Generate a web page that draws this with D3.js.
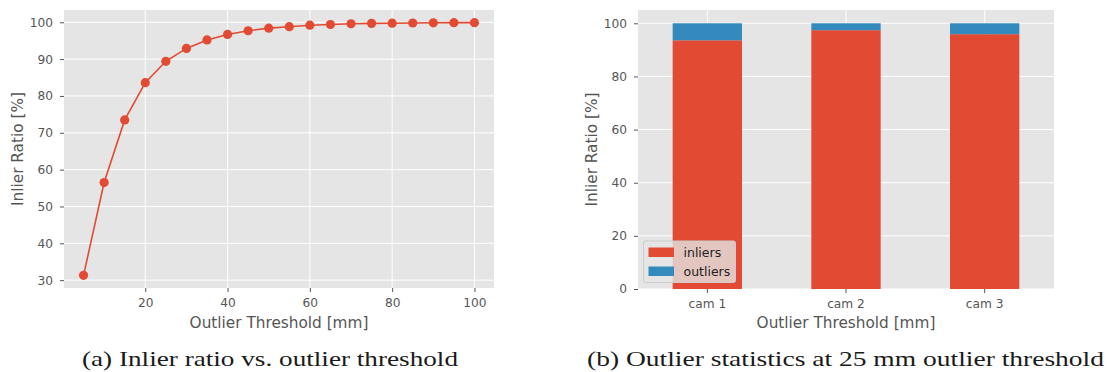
<!DOCTYPE html>
<html>
<head>
<meta charset="utf-8">
<script src="https://cdn.jsdelivr.net/npm/d3@7"></script>
<style>
  body { margin: 0; background: #fff; }
  svg { display: block; }
  .tick text { font-family: 'DejaVu Sans', sans-serif; }
</style>
</head>
<body>
<div id="chart"></div>
<script>
// left panel: inlier ratio vs threshold
const thresholds = [5, 10, 15, 20, 25, 30, 35, 40, 45, 50, 55, 60, 65, 70, 75, 80, 85, 90, 95, 100];
const inlierRatio = [31.3, 56.5, 73.5, 83.6, 89.4, 92.9, 95.2, 96.7, 97.7, 98.4, 98.8, 99.2, 99.4, 99.6, 99.7, 99.75, 99.8, 99.85, 99.9, 99.9];
const xTicksA = [20, 40, 60, 80, 100];
const yTicksA = [30, 40, 50, 60, 70, 80, 90, 100];

// right panel: stacked bars per camera
const cams = ['cam 1', 'cam 2', 'cam 3'];
const inliers = [93.6, 97.4, 95.9];
const outliers = [6.4, 2.6, 4.1];
const yTicksB = [0, 20, 40, 60, 80, 100];
const seriesNames = ['inliers', 'outliers'];

const red = '#E24A33', blue = '#348ABD', bg = '#E5E5E5', txt = '#555555';

const svg = d3.select('#chart').append('svg')
  .attr('width', 1110).attr('height', 372)
  .attr('viewBox', '0 0 1110 372');

function styleAxis(g) {
  g.select('.domain').remove();
  g.selectAll('.tick line').attr('stroke', txt).attr('stroke-width', 1);
  g.selectAll('.tick text').attr('fill', txt).style('font-size', '12.2px');
}

function gridlines(g, x, y, xt, yt, box) {
  g.append('g').selectAll('line').data(yt).join('line')
    .attr('x1', box.l).attr('x2', box.r)
    .attr('y1', d => y(d)).attr('y2', d => y(d))
    .attr('stroke', '#fff').attr('stroke-width', 1);
  g.append('g').selectAll('line').data(xt).join('line')
    .attr('y1', box.t).attr('y2', box.b)
    .attr('x1', d => x(d)).attr('x2', d => x(d))
    .attr('stroke', '#fff').attr('stroke-width', 1);
}

function labels(g, box, xlab, ylab, ylx) {
  g.append('text')
    .attr('x', (box.l + box.r) / 2).attr('y', 328)
    .attr('text-anchor', 'middle')
    .attr('fill', txt)
    .style('font-family', 'DejaVu Sans, sans-serif').style('font-size', '15.3px')
    .text(xlab);
  g.append('text')
    .attr('transform', `translate(${ylx},${(box.t + box.b) / 2}) rotate(-90)`)
    .attr('text-anchor', 'middle')
    .attr('fill', txt)
    .style('font-family', 'DejaVu Sans, sans-serif').style('font-size', '15.3px')
    .text(ylab);
}

// ---- panel (a)
const boxA = { l: 64, r: 494, t: 10, b: 288 };
const xA = d3.scaleLinear().domain([0.25, 104.75]).range([boxA.l, boxA.r]);
const yA = d3.scaleLinear().domain([27.87, 103.33]).range([boxA.b, boxA.t]);

const gA = svg.append('g');
gA.append('rect').attr('x', boxA.l).attr('y', boxA.t)
  .attr('width', boxA.r - boxA.l).attr('height', boxA.b - boxA.t).attr('fill', bg);
gridlines(gA, xA, yA, xTicksA, yTicksA, boxA);

gA.append('g').attr('transform', `translate(0,${boxA.b})`)
  .call(d3.axisBottom(xA).tickValues(xTicksA).tickSize(4).tickPadding(6))
  .call(styleAxis);
gA.append('g').attr('transform', `translate(${boxA.l},0)`)
  .call(d3.axisLeft(yA).tickValues(yTicksA).tickSize(4).tickPadding(7))
  .call(styleAxis);

const ptsA = thresholds.map((t, i) => ({ t, v: inlierRatio[i] }));
gA.append('path').datum(ptsA)
  .attr('fill', 'none').attr('stroke', red).attr('stroke-width', 1.6)
  .attr('d', d3.line().x(d => xA(d.t)).y(d => yA(d.v)));
gA.append('g').selectAll('circle').data(ptsA).join('circle')
  .attr('cx', d => xA(d.t)).attr('cy', d => yA(d.v)).attr('r', 4.6)
  .attr('fill', red);

labels(gA, boxA, 'Outlier Threshold [mm]', 'Inlier Ratio [%]', 22.5);

// ---- panel (b)
const boxB = { l: 638, r: 1054, t: 10, b: 289 };
const xB = d3.scaleBand().domain(cams).range([boxB.l, boxB.r]).paddingInner(0.5).paddingOuter(0.25);
const yB = d3.scaleLinear().domain([0, 105]).range([boxB.b, boxB.t]);
const camCenter = c => xB(c) + xB.bandwidth() / 2;

const gB = svg.append('g');
gB.append('rect').attr('x', boxB.l).attr('y', boxB.t)
  .attr('width', boxB.r - boxB.l).attr('height', boxB.b - boxB.t).attr('fill', bg);
gridlines(gB, camCenter, yB, cams, yTicksB, boxB);

const stackData = cams.map((c, i) => ({ cam: c, inliers: inliers[i], outliers: outliers[i] }));
const stacked = d3.stack().keys(seriesNames)(stackData);
const colors = d3.scaleOrdinal().domain(seriesNames).range([red, blue]);

gB.append('g').selectAll('g').data(stacked).join('g')
  .attr('fill', d => colors(d.key))
  .selectAll('rect').data(d => d).join('rect')
  .attr('x', d => xB(d.data.cam))
  .attr('width', xB.bandwidth())
  .attr('y', d => yB(d[1]))
  .attr('height', d => yB(d[0]) - yB(d[1]));

gB.append('g').attr('transform', `translate(0,${boxB.b})`)
  .call(d3.axisBottom(xB).tickSize(4).tickPadding(6))
  .call(styleAxis);
gB.append('g').attr('transform', `translate(${boxB.l},0)`)
  .call(d3.axisLeft(yB).tickValues(yTicksB).tickSize(4).tickPadding(7))
  .call(styleAxis);

labels(gB, boxB, 'Outlier Threshold [mm]', 'Inlier Ratio [%]', 597);

// legend
const lg = gB.append('g').attr('transform', 'translate(643.5,241)');
lg.append('rect').attr('width', 92).attr('height', 41.5).attr('rx', 2)
  .attr('fill', bg).attr('fill-opacity', 0.8)
  .attr('stroke', '#CCCCCC').attr('stroke-width', 1);
seriesNames.forEach((n, i) => {
  lg.append('rect').attr('x', 5).attr('y', 6.5 + i * 19)
    .attr('width', 25.5).attr('height', 9.5).attr('fill', colors(n));
  lg.append('text').attr('x', 40).attr('y', 11.5 + i * 19).attr('dy', '0.35em')
    .attr('fill', '#222')
    .style('font-family', 'DejaVu Sans, sans-serif').style('font-size', '12.5px')
    .text(n);
});

// captions
const captions = [
  { text: '(a) Inlier ratio vs. outlier threshold', x: 82, w: 376 },
  { text: '(b) Outlier statistics at 25 mm outlier threshold', x: 587, w: 517 }
];
svg.append('g').selectAll('text').data(captions).join('text')
  .attr('x', d => d.x).attr('y', 366)
  .attr('textLength', d => d.w).attr('lengthAdjust', 'spacingAndGlyphs')
  .attr('fill', '#1a1a1a')
  .style('font-family', 'Liberation Serif, serif').style('font-size', '22px')
  .text(d => d.text);
</script>
</body>
</html>
